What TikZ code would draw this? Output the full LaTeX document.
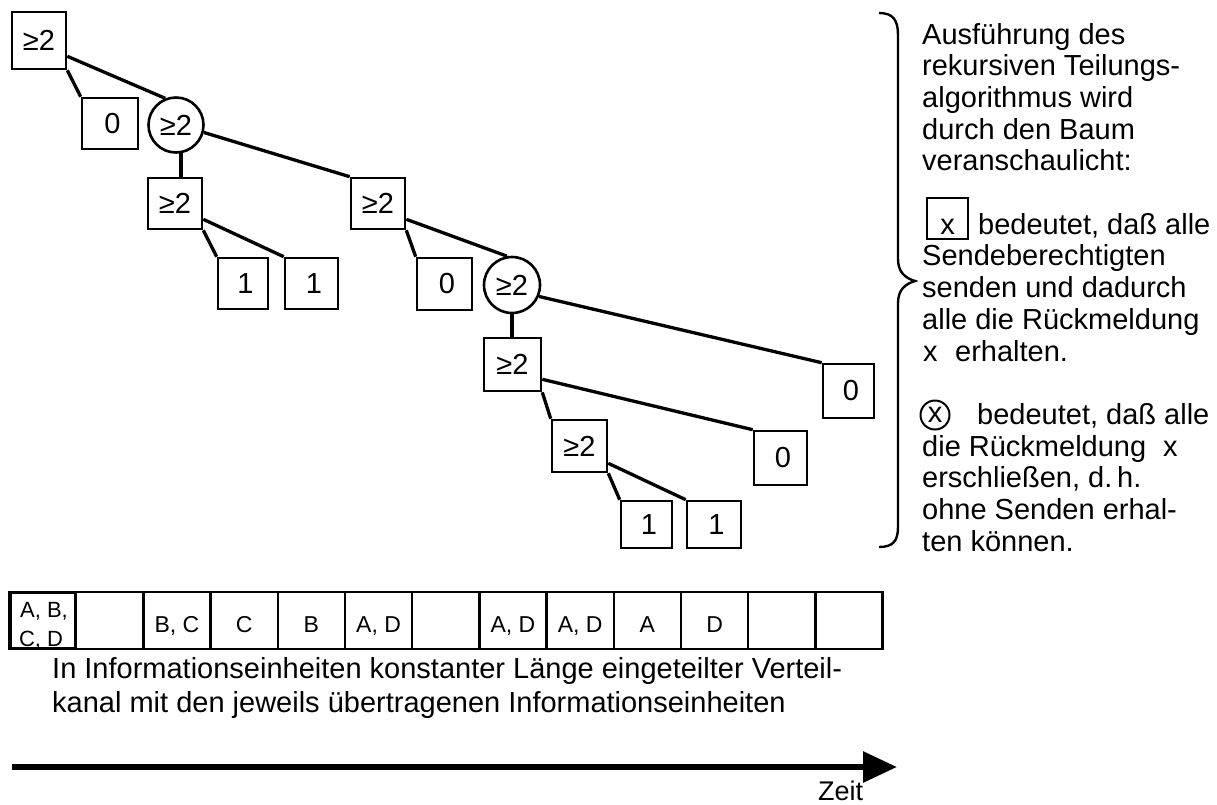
\documentclass[tikz,border=0pt]{standalone}
\usepackage{fontspec}
\setmainfont{Liberation Sans}
\usetikzlibrary{arrows.meta,calc}
\begin{document}
\begin{tikzpicture}[x=1pt,y=-1pt,
  tbox/.style={draw, line width=2.6pt, inner sep=0pt, minimum width=54pt, minimum height=52pt, font=\fontsize{29}{29}\selectfont},
  tcirc/.style={draw, circle, line width=2.6pt, inner sep=0pt, minimum size=55pt, font=\fontsize{29}{29}\selectfont},
  edge/.style={line width=3.3pt},
  cell/.style={draw, line width=2.4pt, inner sep=0pt, minimum width=67.2pt, minimum height=57pt,
    text height=23pt, text depth=0pt, font=\fontsize{23}{29}\selectfont},
  celltxt/.style={anchor=base, inner sep=0pt, font=\fontsize{22}{29}\selectfont},
  txt/.style={anchor=base west, inner sep=0pt, font=\fontsize{29}{32}\selectfont},
]
\useasboundingbox (0,0) rectangle (1217,804);

% ---------- splitting tree ----------
\node[tbox, minimum height=57pt] (r)  at (39,40.5)   {≥2};
\node[tbox, minimum width=56pt, minimum height=51pt] (z1) at (110,123.5) {\,0};
\node[tcirc] (c1) at (176,125) {≥2};
\node[tbox, minimum height=51pt] (a1) at (175,203.5) {≥2};
\node[tbox, minimum height=51pt] (a2) at (378,203.5) {≥2};
\node[tbox, minimum width=50pt, minimum height=51pt] (o1) at (243,283.5) {\,1};
\node[tbox, minimum width=53pt, minimum height=51pt] (o2) at (311.5,283.5) {\,1};
\node[tbox, minimum width=55pt, minimum height=52pt] (z2) at (444.5,284) {\,0};
\node[tcirc, minimum size=56pt] (c2) at (512,285) {≥2};
\node[tbox, minimum width=57pt, minimum height=53pt] (a3) at (512.5,364.5) {≥2};
\node[tbox, minimum width=51pt, minimum height=54pt] (z3) at (848.5,391) {\,0};
\node[tbox, minimum width=53pt, minimum height=54pt] (z4) at (780.5,458) {\,0};
\node[tbox, minimum width=55pt, minimum height=52pt] (a4) at (579.5,446) {≥2};
\node[tbox, minimum width=51pt, minimum height=47pt] (o3) at (646.5,524.5) {\,1};
\node[tbox, minimum width=54pt, minimum height=47pt] (o4) at (714,524.5) {\,1};

\draw[edge] (r.south east) -- (z1.north west);
\draw[edge] ([yshift=14pt]r.south east) -- (c1.112);
\draw[edge] (c1.-80) -- (c1.-80 |- a1.north);
\draw[edge] (c1.-15) -- (a2.north west);
\draw[edge] (a1.south east) -- (o1.north west);
\draw[edge] ([yshift=11pt]a1.south east) -- (o2.north west);
\draw[edge] (a2.south east) -- (z2.north west);
\draw[edge] ([yshift=11pt]a2.south east) -- (c2.100);
\draw[edge] (c2.south) -- (c2.south |- a3.north);
\draw[edge] (c2.-23) -- (z3.north west);
\draw[edge] ([yshift=13pt]a3.south east) -- (z4.north west);
\draw[edge] (a3.south east) -- (a4.north west);
\draw[edge] (a4.south east) -- (o3.north west);
\draw[edge] ([yshift=10pt]a4.south east) -- (o4.north west);

% ---------- brace ----------
\draw[line width=2.4pt]
  (879,13) .. controls (893,13) and (898,20) .. (898,35)
  -- (898,259) .. controls (898,272) and (905,278) .. (915,281)
  .. controls (905,284) and (898,290) .. (898,303)
  -- (898,527) .. controls (898,541) and (893,547) .. (879,547);

% ---------- explanation ----------
\node[txt] (t1)  at (922,44)    {Ausführung des};
\node[txt] (t2)  at (922,75.7)  {rekursiven Teilungs-};
\node[txt] (t3)  at (922,107.4) {algorithmus wird};
\node[txt] (t4)  at (922,139.1) {durch den Baum};
\node[txt] (t5)  at (922,170.8) {veranschaulicht:};
\node[draw, line width=2pt, inner sep=0pt, minimum size=41pt, text height=31pt, text depth=0pt,
      font=\fontsize{29}{29}\selectfont] (lb) at (947.5,218.5) {x};
\node[txt] (t6)  at (978,234.2) {bedeutet, daß alle};
\node[txt] (t7)  at (922,265.9) {Sendeberechtigten};
\node[txt] (t8)  at (922,297.6) {senden und dadurch};
\node[txt] (t9)  at (922,329.3) {alle die Rückmeldung};
\node[txt] (t10a) at (923,361) {x};
\node[txt] (t10b) at (955,361) {erhalten.};
\node[draw, circle, line width=2pt, inner sep=0pt, minimum size=29pt, font=\fontsize{29}{29}\selectfont] (lc) at (935,415) {x};
\node[txt] (t11) at (977,424.4) {bedeutet, daß alle};
\node[txt] (t12a) at (922,456.1) {die Rückmeldung};
\node[txt] (t12b) at (1163,456.1) {x};
\node[txt] (t13) at (922,487.8) {erschließen, d.\,h.};
\node[txt] (t14) at (922,519.5) {ohne Senden erhal-};
\node[txt] (t15) at (922,551.2) {ten können.};

% ---------- broadcast channel slots ----------
\node[cell] (k0)  at (42.6,620.5) {};
\node[cell] (k1)  at (109.8,620.5) {};
\node[cell] (k2)  at (177.0,620.5) {B, C};
\node[cell] (k3)  at (244.2,620.5) {C};
\node[cell] (k4)  at (311.4,620.5) {B};
\node[cell] (k5)  at (378.6,620.5) {A, D};
\node[cell] (k6)  at (445.8,620.5) {};
\node[cell] (k7)  at (513.0,620.5) {A, D};
\node[cell] (k8)  at (580.2,620.5) {A, D};
\node[cell] (k9)  at (647.4,620.5) {A};
\node[cell] (k10) at (714.6,620.5) {D};
\node[cell] (k11) at (781.8,620.5) {};
\node[cell] (k12) at (849.0,620.5) {};
% first slot is framed twice
\draw[line width=1.6pt] ([shift={(3pt,-2.5pt)}]k0.north west) rectangle ([shift={(-3pt,2.5pt)}]k0.south east);
\node[celltxt] (k0a) at (44,617) {A, B,};
\node[celltxt] (k0b) at (41,646) {C, D};

\node[txt] (cap1) at (52,678) {In Informationseinheiten konstanter Länge eingeteilter Verteil-};
\node[txt] (cap2) at (52,712) {kanal mit den jeweils übertragenen Informationseinheiten};

% ---------- time axis ----------
\coordinate (ta) at (12,767);
\coordinate (tb) at (897,767);
\draw[line width=6pt, -{Triangle[length=34pt,width=30pt]}] (ta) -- (tb);
\node[txt, font=\fontsize{27}{27}\selectfont] (zeit) at (818,800) {Zeit};
\end{tikzpicture}
\end{document}
